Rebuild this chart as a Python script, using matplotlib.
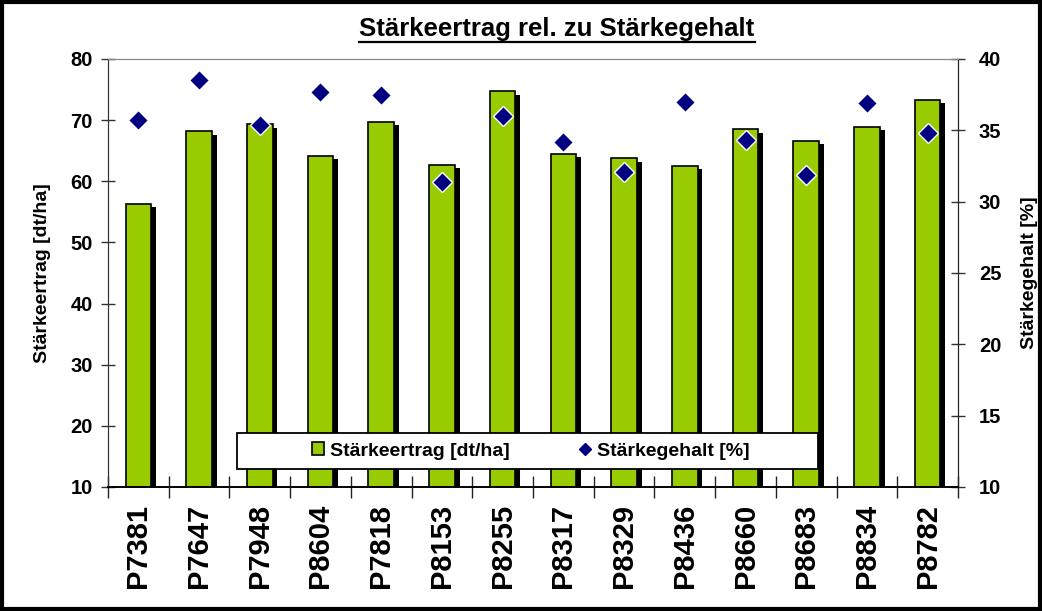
import matplotlib
matplotlib.use("Agg")
import matplotlib.pyplot as plt
import matplotlib.patheffects as pe
from matplotlib.lines import Line2D
from matplotlib.patches import Patch, Rectangle
import numpy as np

categories = ["P7381", "P7647", "P7948", "P8604", "P7818", "P8153", "P8255",
              "P8317", "P8329", "P8436", "P8660", "P8683", "P8834", "P8782"]
ertrag = [56.3, 68.2, 69.3, 64.2, 69.7, 62.7, 74.7, 64.5, 63.8, 62.5, 68.5, 66.6, 68.9, 73.3]
gehalt = [35.7, 38.5, 35.4, 37.7, 37.5, 31.4, 36.0, 34.2, 32.1, 37.0, 34.3, 31.9, 36.9, 34.8]
left_ticks = [10, 20, 30, 40, 50, 60, 70, 80]
right_ticks = [10, 15, 20, 25, 30, 35, 40]

plt.rcParams['font.family'] = ['Liberation Sans', 'DejaVu Sans']
plt.rcParams['font.weight'] = 'bold'

W, H = 1042, 611
fig = plt.figure(figsize=(W / 100, H / 100), dpi=100)
ax = fig.add_axes([108 / W, 1 - 487 / H, (958 - 108) / W, (487 - 59) / H])
ax2 = ax.twinx()

x = np.arange(len(categories))
green = '#99CC00'
bars = ax.bar(x, [e - 10 for e in ertrag], bottom=10, width=0.42, color=green,
              edgecolor='black', linewidth=1.2, zorder=2)
for b in bars:
    b.set_path_effects([pe.SimplePatchShadow(offset=(3.5, -2.5), shadow_rgbFace='black', alpha=1.0),
                        pe.Normal()])

ax.set_ylim(10, 80)
ax.set_xlim(-0.5, len(categories) - 0.5)
ax.set_yticks(left_ticks)
ax.set_xticks(np.arange(-0.5, len(categories) + 0.5, 1.0))
ax.set_xticklabels([])
ax.set_xticks(x, minor=True)
ax.set_xticklabels(categories, minor=True, rotation=90, fontsize=21, fontweight='bold')
ax.tick_params(axis='x', which='minor', length=0, pad=12)
ax.tick_params(axis='x', which='major', direction='inout', length=16, width=1, color='#222222')
ax.tick_params(axis='y', direction='inout', length=10, width=1, labelsize=14.5, color='#333333', pad=6)
ax.set_ylabel('Stärkeertrag [dt/ha]', fontsize=14, fontweight='bold', labelpad=14)

ax2.plot(x, gehalt, linestyle='none', marker='D', markersize=10, markerfacecolor='#000080',
         markeredgecolor='white', markeredgewidth=1.0, zorder=3)
ax2.set_ylim(10, 40)
ax2.set_yticks(right_ticks)
ax2.tick_params(axis='y', direction='inout', length=10, width=1, labelsize=14.5, color='#333333', pad=10)
ax2.set_ylabel('Stärkegehalt [%]', fontsize=14, fontweight='bold', labelpad=14)

for a in (ax, ax2):
    a.spines['top'].set_color('#888888')
    a.spines['left'].set_color('#333333')
    a.spines['right'].set_color('#222222')
    a.spines['bottom'].set_color('black')
    a.spines['bottom'].set_linewidth(1.2)

# legend frame
fig.add_artist(Rectangle((237 / W, 1 - 469 / H), (818 - 237) / W, (469 - 433) / H,
                         transform=fig.transFigure, facecolor='white', edgecolor='black',
                         linewidth=1.3, zorder=9))
handles = [Patch(facecolor=green, edgecolor='black', linewidth=1.2),
           Line2D([], [], linestyle='none', marker='D', markersize=6, markerfacecolor='#000080',
                  markeredgecolor='#000080')]
leg = fig.legend(handles, ['Stärkeertrag [dt/ha]', 'Stärkegehalt [%]'], loc='center',
                 bbox_to_anchor=(531 / W, 1 - 451 / H), ncol=2,
                 frameon=False, columnspacing=3.6, handlelength=0.6, handleheight=0.6,
                 handletextpad=0.3, borderpad=0.2, prop={'weight': 'bold', 'size': 14})
leg.set_zorder(10)

title = fig.text(557 / W, 1 - 29 / H, 'Stärkeertrag rel. zu Stärkegehalt', ha='center', va='center',
                 fontsize=18.5, fontweight='bold')

fig.canvas.draw()
bb = title.get_window_extent()
fig.add_artist(Line2D([bb.x0 / W, bb.x1 / W], [(H - 42) / H, (H - 42) / H],
                      transform=fig.transFigure, color='black', linewidth=1.6))

fig.add_artist(Rectangle((2 / W, 2 / H), (W - 4) / W, (H - 4) / H, transform=fig.transFigure,
                         fill=False, edgecolor='black', linewidth=3))

fig.savefig('out.png', dpi=100)
